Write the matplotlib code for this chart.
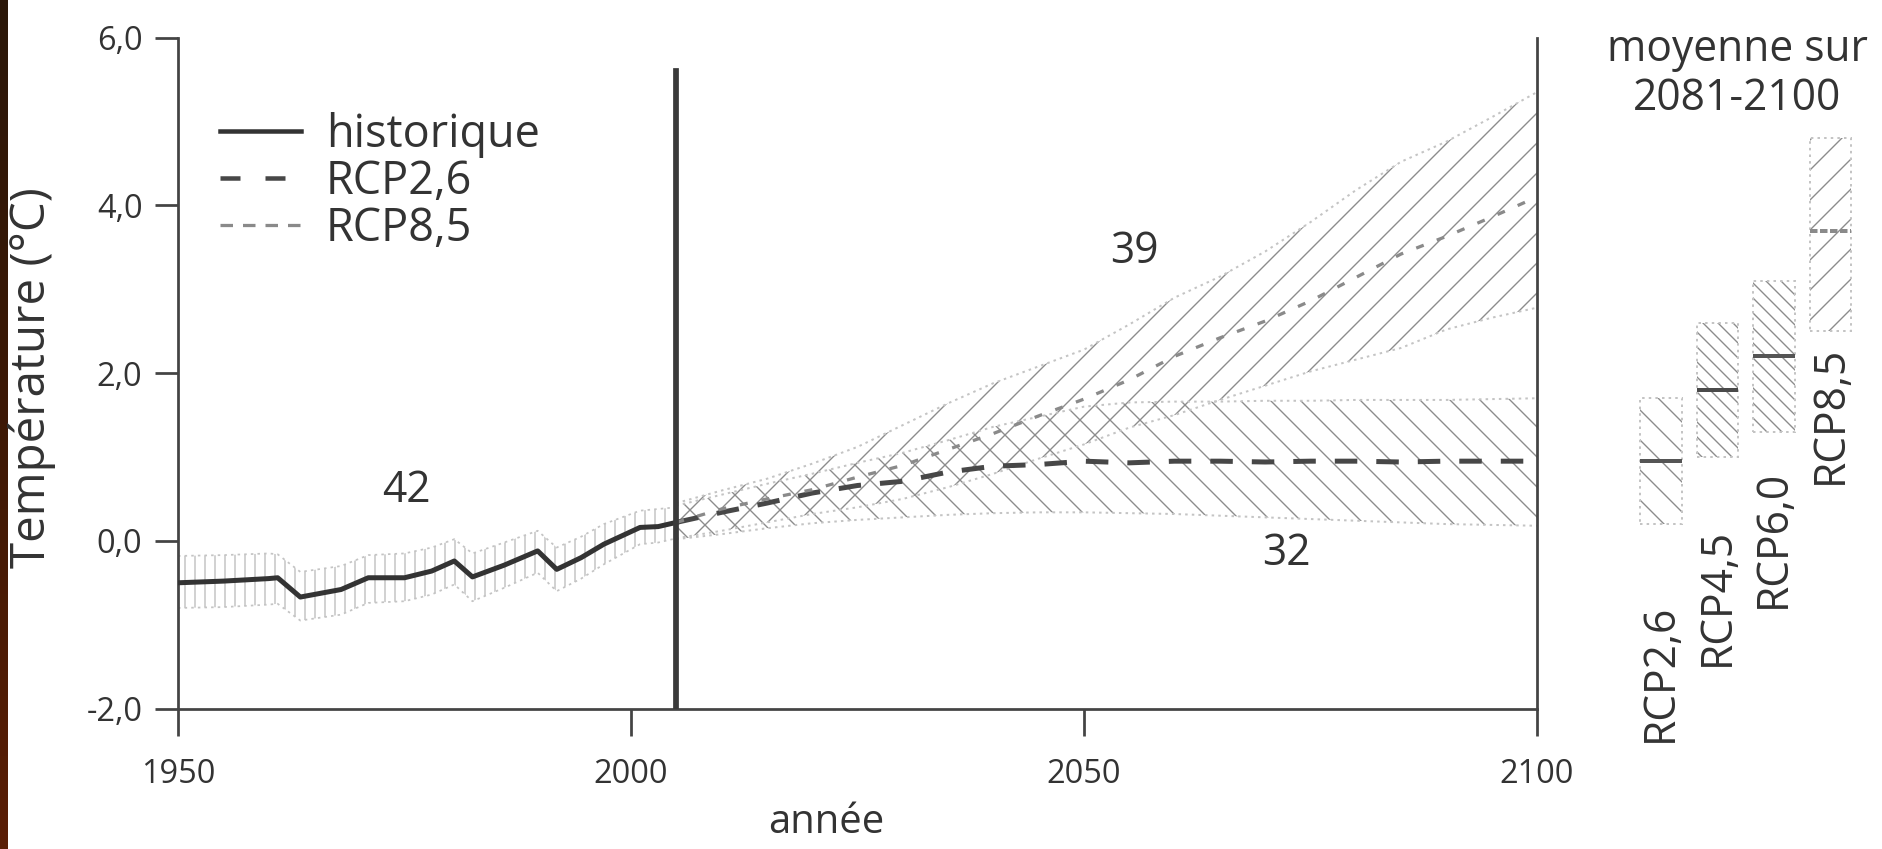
import matplotlib
matplotlib.use("Agg")
import matplotlib.pyplot as plt
from matplotlib.lines import Line2D
from matplotlib.colors import LinearSegmentedColormap
import numpy as np

# ---------------- data ----------------
hist_years = [1950, 1955, 1960, 1961, 1963.5, 1968, 1971, 1975, 1978, 1980.5,
              1982.5, 1986, 1989.7, 1991.8, 1994.5, 1997, 2001, 2003, 2005]
hist_mean = [-0.50, -0.48, -0.45, -0.44, -0.67, -0.58, -0.44, -0.44, -0.36, -0.24,
             -0.43, -0.29, -0.12, -0.34, -0.20, -0.04, 0.16, 0.17, 0.22]
hist_upper = [-0.18, -0.17, -0.15, -0.16, -0.37, -0.30, -0.17, -0.15, -0.08, 0.02,
              -0.15, -0.02, 0.12, -0.08, 0.05, 0.20, 0.36, 0.38, 0.40]
hist_lower = [-0.80, -0.79, -0.76, -0.75, -0.95, -0.88, -0.74, -0.72, -0.64, -0.52,
              -0.72, -0.56, -0.38, -0.60, -0.45, -0.28, -0.04, -0.02, 0.03]

proj_years = [2005, 2010, 2015, 2020, 2025, 2030, 2035, 2040, 2045, 2050,
              2055, 2060, 2065, 2070, 2075, 2080, 2085, 2090, 2095, 2100]
rcp26_mean = [0.22, 0.34, 0.45, 0.57, 0.66, 0.71, 0.82, 0.89, 0.91, 0.95,
              0.93, 0.95, 0.95, 0.94, 0.95, 0.95, 0.94, 0.95, 0.95, 0.95]
rcp26_upper = [0.42, 0.55, 0.68, 0.80, 0.93, 1.05, 1.20, 1.36, 1.48, 1.60,
               1.65, 1.66, 1.66, 1.67, 1.67, 1.68, 1.68, 1.68, 1.69, 1.70]
rcp26_lower = [0.02, 0.08, 0.15, 0.21, 0.25, 0.28, 0.31, 0.33, 0.34, 0.34,
               0.33, 0.32, 0.30, 0.28, 0.26, 0.24, 0.22, 0.20, 0.19, 0.18]
rcp85_mean = [0.22, 0.38, 0.50, 0.61, 0.76, 0.90, 1.09, 1.28, 1.49, 1.69,
              1.92, 2.20, 2.42, 2.62, 2.86, 3.14, 3.42, 3.63, 3.86, 4.10]
rcp85_upper = [0.45, 0.60, 0.74, 0.92, 1.12, 1.38, 1.64, 1.88, 2.08, 2.28,
               2.58, 2.90, 3.15, 3.45, 3.80, 4.18, 4.52, 4.76, 5.05, 5.35]
rcp85_lower = [0.03, 0.12, 0.22, 0.32, 0.40, 0.50, 0.64, 0.80, 0.98, 1.15,
               1.35, 1.50, 1.68, 1.85, 2.02, 2.16, 2.30, 2.52, 2.66, 2.78]

scenario_names = ["RCP2,6", "RCP4,5", "RCP6,0", "RCP8,5"]
avg_mean = [0.95, 1.8, 2.2, 3.7]
avg_low = [0.2, 1.0, 1.3, 2.5]
avg_high = [1.7, 2.6, 3.1, 4.8]

y_ticks = [-2, 0, 2, 4, 6]
y_tick_labels = ["-2,0", "0,0", "2,0", "4,0", "6,0"]
x_ticks = [1950, 2000, 2050, 2100]
x_tick_labels = ["1950", "2000", "2050", "2100"]

annotations = [("42", 1975.2, 0.60), ("39", 2055.6, 3.45), ("32", 2072.3, -0.15)]

# ---------------- style ----------------
plt.rcParams["font.family"] = ["Open Sans", "DejaVu Sans"]
plt.rcParams["lines.scale_dashes"] = False
TXT = "#333333"
AXC = "#444444"
HATCH = "#8c8c8c"
EDGE = "#c4c4c4"

DPI = 180
W, H = 1883, 849
fig = plt.figure(figsize=(W / DPI, H / DPI), dpi=DPI)
fig.patch.set_facecolor("white")

# dark page edge on the left
strip = fig.add_axes([0, 0, 8 / W, 1])
cmap = LinearSegmentedColormap.from_list("edge", ["#2b1709", "#3e1906", "#5a1e05"])
strip.imshow(np.linspace(0, 1, 100).reshape(-1, 1), aspect="auto", cmap=cmap)
strip.axis("off")

L, R = 178, 1537
B, T = 708.6, 37.6
ax = fig.add_axes([L / W, 1 - B / H, (R - L) / W, (B - T) / H])
ax.set_xlim(1950, 2100)
ax.set_ylim(-2, 6)
ax.set_facecolor("none")

# historical band (vertical hatch)
with plt.rc_context({"hatch.linewidth": 0.5}):
    ax.fill_between(hist_years, hist_lower, hist_upper, facecolor="none",
                    edgecolor="#b8b8b8", hatch="|||", linewidth=0, zorder=1)
ax.plot(hist_years, hist_upper, ls=":", color=EDGE, lw=0.7, zorder=1)
ax.plot(hist_years, hist_lower, ls=":", color=EDGE, lw=0.7, zorder=1)

# projection bands
with plt.rc_context({"hatch.linewidth": 0.55}):
    ax.fill_between(proj_years, rcp26_lower, rcp26_upper, facecolor="none",
                    edgecolor=HATCH, hatch="\\\\", linewidth=0, zorder=1)
    ax.fill_between(proj_years, rcp85_lower, rcp85_upper, facecolor="none",
                    edgecolor=HATCH, hatch="//", linewidth=0, zorder=1)
for arr in (rcp26_lower, rcp26_upper, rcp85_lower, rcp85_upper):
    ax.plot(proj_years, arr, ls=":", color=EDGE, lw=0.8, zorder=1)

# lines
ax.plot(hist_years, hist_mean, color="#333333", lw=2.0, solid_joinstyle="round",
        zorder=4)
ax.plot(proj_years, rcp26_mean, color="#474747", lw=2.0, ls=(0, (9, 7.6)), zorder=4)
ax.plot(proj_years, rcp85_mean, color="#8a8a8a", lw=1.3, ls=(0, (3.2, 5.6)), zorder=4)

# vertical separator at end of historical period
ax.axvline(hist_years[-1], ymin=0, ymax=(5.6 + 2) / 8, color="#3a3a3a", lw=2.3,
           zorder=5)

# spines / ticks
ax.spines["top"].set_visible(False)
for s in ("left", "right", "bottom"):
    ax.spines[s].set_color(AXC)
    ax.spines[s].set_linewidth(1.1)
ax.set_yticks(y_ticks)
ax.set_yticklabels(y_tick_labels)
ax.set_xticks(x_ticks)
ax.set_xticklabels(x_tick_labels)
ax.tick_params(axis="y", direction="out", length=9.2, width=1.1, color=AXC,
               labelsize=13, labelcolor=TXT, pad=5, right=False)
ax.tick_params(axis="x", direction="out", length=10.8, width=1.1, color=AXC,
               labelsize=13, labelcolor=TXT, pad=9)

for txt, xx, yy in annotations:
    ax.text(xx, yy, txt, fontsize=17, color=TXT, ha="center", va="center")

# legend
handles = [
    Line2D([], [], color="#333333", lw=1.8),
    Line2D([], [], color="#474747", lw=1.8, ls=(0, (8, 10))),
    Line2D([], [], color="#8a8a8a", lw=1.3, ls=(0, (5, 4))),
]
leg = ax.legend(handles, ["historique", "RCP2,6", "RCP8,5"], loc="upper left",
                bbox_to_anchor=(220 / W, 1 - 112 / H), bbox_transform=fig.transFigure,
                frameon=False, fontsize=18, handlelength=1.8, handletextpad=0.55,
                labelspacing=0.02, borderpad=0, borderaxespad=0)
for t in leg.get_texts():
    t.set_color(TXT)

# axis labels
fig.text(32 / W, 1 - 378 / H, "Température (°C)", rotation=90, ha="center",
         va="center", fontsize=19, color=TXT)
fig.text(826 / W, 1 - 833 / H, "année", ha="center", va="baseline", fontsize=16,
         color=TXT)

# right panel: 2081-2100 averages
ax2 = fig.add_axes([1609 / W, 1 - B / H, (W - 1609) / W, (B - T) / H])
ax2.set_xlim(-0.92, 3.93)
ax2.set_ylim(-2, 6)
ax2.axis("off")
xpos = np.arange(len(scenario_names))
hatches = ["\\\\", "\\\\\\\\", "\\\\\\\\", "//"]
heights = [h - l for h, l in zip(avg_high, avg_low)]
with plt.rc_context({"hatch.linewidth": 0.55}):
    bars = ax2.bar(xpos, heights, bottom=avg_low, width=0.74, facecolor="none",
                   edgecolor=HATCH, linewidth=0)
    for b, h in zip(bars, hatches):
        b.set_hatch(h)
ax2.bar(xpos, heights, bottom=avg_low, width=0.74, facecolor="none",
        edgecolor=EDGE, linewidth=0.8, linestyle=":")
mean_colors = ["#555555", "#4a4a4a", "#555555", "#8a8a8a"]
mean_styles = ["-", "-", "-", (0, (3, 1))]
for xx, m, c, st in zip(xpos, avg_mean, mean_colors, mean_styles):
    ax2.hlines(m, xx - 0.37, xx + 0.37, color=c, lw=1.6, linestyle=st)

label_tops = [-0.75, 0.15, 0.85, 2.33]
for xx, name, top in zip(xpos, scenario_names, label_tops):
    ax2.text(xx, top, name, rotation=90, ha="center", va="top", fontsize=17,
             color=TXT)
ax2.text(1.35, 5.72, "moyenne sur", ha="center", va="baseline", fontsize=17,
         color=TXT)
ax2.text(1.35, 5.14, "2081-2100", ha="center", va="baseline", fontsize=17,
         color=TXT)

fig.savefig("out.png", dpi=DPI, facecolor="white")
